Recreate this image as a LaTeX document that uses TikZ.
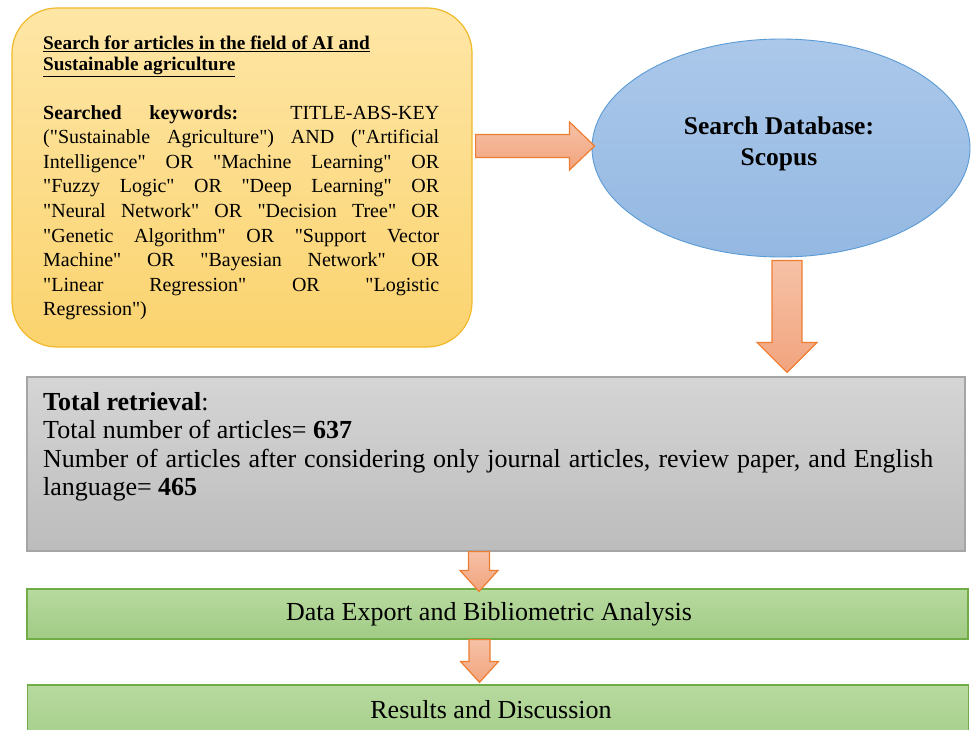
\documentclass[tikz,border=0pt]{standalone}
\usepackage{fontspec}
\setmainfont{Liberation Serif}[Ligatures=TeXOff]
\usetikzlibrary{calc,shapes.geometric}
\definecolor{ytop}{HTML}{FEE6A6}
\definecolor{ybot}{HTML}{FBD36E}
\definecolor{yline}{HTML}{F2B92B}
\definecolor{btop}{HTML}{ABC8EA}
\definecolor{bbot}{HTML}{94B8E2}
\definecolor{bline}{HTML}{5B9BD5}
\definecolor{gtop}{HTML}{D5D5D5}
\definecolor{gbot}{HTML}{BCBCBC}
\definecolor{gline}{HTML}{A5A5A5}
\definecolor{grtop}{HTML}{B7DA9F}
\definecolor{grbot}{HTML}{A1CB85}
\definecolor{grline}{HTML}{70AD47}
\definecolor{otop}{HTML}{F6C1A6}
\definecolor{obot}{HTML}{F2A47E}
\definecolor{oline}{HTML}{ED7D31}
\newcommand\jl[2]{\makebox[#1][s]{#2}}
\newcommand\blkright[5]{\draw[blkarrow] let \p1=(#1), \p2=(#2) in
  (\x1,\y1+#3) -- (\x2-#5,\y1+#3) -- (\x2-#5,\y1+#4) -- (\x2,\y1) --
  (\x2-#5,\y1-#4) -- (\x2-#5,\y1-#3) -- (\x1,\y1-#3) -- cycle;}
\newcommand\blkdown[5]{\draw[blkarrow] let \p1=(#1), \p2=(#2) in
  (\x1-#3,\y1) -- (\x1+#3,\y1) -- (\x1+#3,\y2+#5) -- (\x1+#4,\y2+#5) --
  (\x1,\y2) -- (\x1-#4,\y2+#5) -- (\x1-#3,\y2+#5) -- cycle;}
\tikzset{
  ybox/.style={draw=yline, line width=1.2pt, top color=ytop, bottom color=ybot,
    rounded corners=45pt, minimum width=460pt, minimum height=339pt, inner sep=0pt},
  dbell/.style={ellipse, draw=bline, line width=0.9pt, top color=btop, bottom color=bbot,
    minimum width=378pt, minimum height=218pt, inner sep=0pt},
  graybox/.style={draw=gline, line width=1.2pt, top color=gtop, bottom color=gbot,
    minimum width=938pt, minimum height=174pt, inner sep=0pt},
  greenbox/.style={draw=grline, line width=1.2pt, top color=grtop, bottom color=grbot,
    minimum width=941pt, inner sep=0pt},
  blkarrow/.style={draw=oline, line width=1.2pt, top color=otop, bottom color=obot, line join=miter},
  txt/.style={inner sep=0pt, text=black}
}
\begin{document}
\begin{tikzpicture}[x=1pt,y=-1pt]
\useasboundingbox (0,0) rectangle (972,730);
\fill[white] (0,0) rectangle (972,730);
\clip (0,0) rectangle (972,730);
% yellow box
\node[ybox] (search) at (242,177.5) {};
\node[txt, anchor=north west, align=left, font=\bfseries\fontsize{19.3}{21}\selectfont] (title) at (43,36)
  {\underline{Search for articles in the field of AI and}\\ \underline{Sustainable agriculture}};
\node[txt, anchor=north west, align=left, font=\fontsize{20}{24.6}\selectfont] (kw) at (43,105)
  {\jl{396pt}{\textbf{Searched keywords:} TITLE-ABS-KEY}\\
   \jl{396pt}{("Sustainable Agriculture") AND ("Artificial}\\
   \jl{396pt}{Intelligence" OR "Machine Learning" OR}\\
   \jl{396pt}{"Fuzzy Logic" OR "Deep Learning" OR}\\
   \jl{396pt}{"Neural Network" OR "Decision Tree" OR}\\
   \jl{396pt}{"Genetic Algorithm" OR "Support Vector}\\
   \jl{396pt}{Machine" OR "Bayesian Network" OR}\\
   \jl{396pt}{"Linear Regression" OR "Logistic}\\
   Regression")};
% database ellipse
\node[dbell] (db) at (781,148) {};
\node[txt, align=center, font=\bfseries\fontsize{25.5}{31}\selectfont] (dbtext) at (779,144) {Search Database:\\Scopus};
% gray box
\node[graybox] (total) at (496,464) {};
\node[txt, anchor=north west, align=left, font=\fontsize{26}{28.5}\selectfont] (totaltext) at (43,392)
  {\textbf{Total retrieval}:\\
   Total number of articles= \textbf{637}\\
   \jl{890pt}{Number of articles after considering only journal articles, review paper, and English}\\
   language= \textbf{465}};
% green boxes
\node[greenbox, minimum height=50pt] (export) at (497.5,614) {};
\node[txt, font=\fontsize{26}{28}\selectfont] (exporttext) at (489,614) {Data Export and Bibliometric Analysis};
\node[greenbox, minimum height=70pt] (results) at (498,720) {};
\node[txt, font=\fontsize{26}{28}\selectfont] (resultstext) at (491,710) {Results and Discussion};
% arrows
\coordinate (a1s) at ($(search.east |- db.west)+(3,-2)$);
\coordinate (a1e) at ($(db.west)+(3,-2)$);
\blkright{a1s}{a1e}{11.5}{24}{25}
\coordinate (a2s) at ($(db.south)+(6,3)$);
\coordinate (a2e) at ($(total.north)+(0,-4)$);
\blkdown{a2s}{a2e}{15}{30}{30}
\coordinate (a3s) at ($(total.south)+(-17,0)$);
\coordinate (a3e) at ($(export.north)+(0,3)$);
\blkdown{a3s}{a3e}{10.5}{19}{21}
\coordinate (a4s) at ($(export.south)+(-18,0)$);
\coordinate (a4e) at ($(results.north)+(0,-2)$);
\blkdown{a4s}{a4e}{10.5}{19}{21}
\end{tikzpicture}
\end{document}
